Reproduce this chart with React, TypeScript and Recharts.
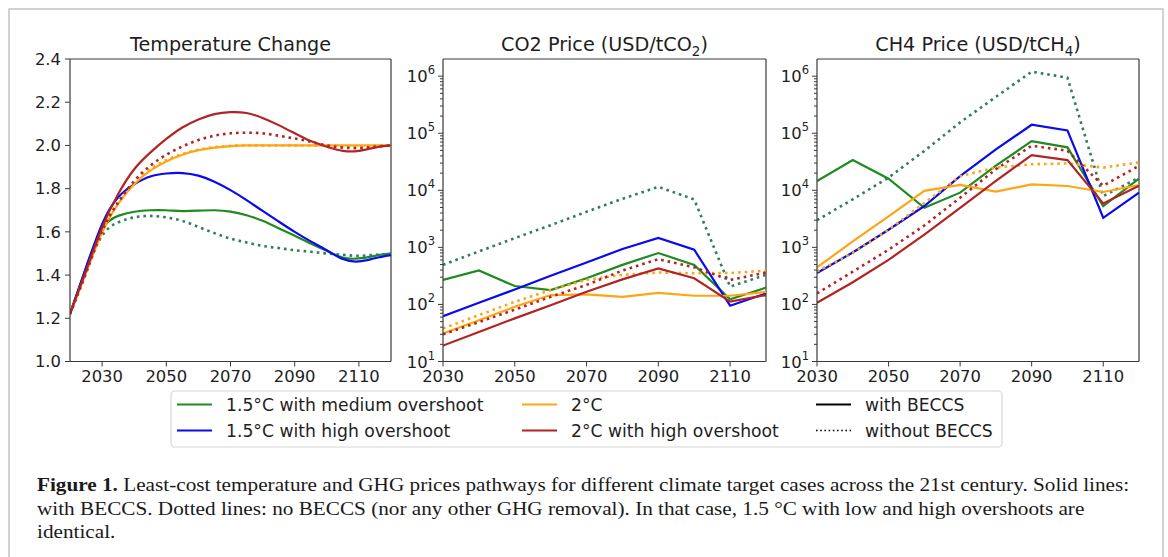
import React from 'react';
import { LineChart, Line, XAxis, YAxis, ReferenceLine } from 'recharts';

// ---------- Temperature change (°C) ----------
const tempYears = [2020, 2025, 2030, 2035, 2040, 2045, 2050, 2055, 2060, 2065, 2070, 2075, 2080, 2085, 2090, 2095, 2100, 2105, 2110, 2115, 2120];
const temp15Medium = [1.22, 1.435, 1.613, 1.674, 1.693, 1.7, 1.7, 1.696, 1.698, 1.7, 1.694, 1.677, 1.651, 1.617, 1.582, 1.546, 1.512, 1.481, 1.477, 1.489, 1.5];
const temp15MediumNoBeccs = [1.22, 1.42, 1.582, 1.644, 1.667, 1.674, 1.667, 1.651, 1.623, 1.594, 1.569, 1.551, 1.535, 1.525, 1.515, 1.508, 1.5, 1.494, 1.489, 1.494, 1.497];
const temp15High = [1.22, 1.435, 1.636, 1.76, 1.82, 1.856, 1.87, 1.872, 1.86, 1.832, 1.793, 1.747, 1.697, 1.648, 1.6, 1.556, 1.515, 1.474, 1.463, 1.478, 1.492];
const temp2 = [1.22, 1.41, 1.597, 1.73, 1.82, 1.883, 1.926, 1.957, 1.978, 1.99, 1.997, 2.0, 2.0, 2.0, 2.0, 2.0, 2.0, 2.0, 2.0, 2.0, 2.0];
const temp2NoBeccs = [1.22, 1.41, 1.6, 1.735, 1.828, 1.89, 1.932, 1.96, 1.98, 1.992, 1.998, 2.0, 2.0, 2.0, 2.0, 2.0, 2.0, 1.997, 1.995, 1.998, 2.0];
const temp2High = [1.22, 1.42, 1.62, 1.775, 1.89, 1.967, 2.03, 2.083, 2.12, 2.145, 2.154, 2.15, 2.127, 2.094, 2.056, 2.02, 1.994, 1.975, 1.975, 1.99, 2.0];
const temp2HighNoBeccs = [1.22, 1.41, 1.605, 1.736, 1.836, 1.906, 1.957, 1.995, 2.025, 2.045, 2.056, 2.059, 2.056, 2.045, 2.032, 2.017, 2.0, 1.99, 1.988, 1.994, 2.0];

// ---------- CO2 price (USD/tCO2) ----------
const priceYears = [2030, 2040, 2050, 2060, 2070, 2080, 2090, 2100, 2110, 2120];
const co2_15Medium = [270, 393, 210, 178, 288, 494, 795, 494, 123, 197];
const co2_15MediumNoBeccs = [494, 850, 1450, 2450, 4200, 7100, 11500, 6900, 205, 330];
const co2_15High = [62, 107, 183, 317, 543, 935, 1460, 910, 95, 156];
const co2_2 = [31, 53, 91, 146, 150, 136, 160, 142, 142, 166];
const co2_2NoBeccs = [38, 65, 111, 179, 270, 330, 363, 353, 355, 390];
const co2_2High = [19, 33, 57, 97, 167, 275, 427, 287, 112, 146];
const co2_2HighNoBeccs = [30, 49, 81, 136, 220, 393, 620, 447, 268, 363];

// ---------- CH4 price (USD/tCH4) ----------
const ch4_15Medium = [14600, 33900, 16000, 4940, 9100, 27000, 72600, 56700, 5300, 16000];
const ch4_15MediumNoBeccs = [2990, 6950, 16700, 49000, 155000, 433000, 1200000, 940000, 7900, 16700];
const ch4_15High = [355, 815, 2040, 5300, 17700, 52000, 141000, 112000, 3300, 9100];
const ch4_2 = [446, 1270, 3500, 9800, 12400, 9500, 12700, 11900, 9350, 12400];
const ch4_2NoBeccs = [380, 795, 2040, 6000, 17700, 25000, 28600, 29500, 25000, 30800];
const ch4_2High = [107, 245, 605, 1670, 4940, 14600, 41400, 33900, 5900, 12000];
const ch4_2HighNoBeccs = [156, 375, 910, 2420, 7400, 23400, 60400, 49400, 12000, 27000];

// ---------- ticks & labels ----------
const tempTicksY = [1.0, 1.2, 1.4, 1.6, 1.8, 2.0, 2.2, 2.4];
const yearTicks = [2030, 2050, 2070, 2090, 2110];
const logExponents = [1, 2, 3, 4, 5, 6];
const titles = ['Temperature Change', 'CO2 Price (USD/tCO', 'CH4 Price (USD/tCH'];
const titleSubs = ['', '2', '4'];
const legendLabels = ['1.5°C with medium overshoot', '1.5°C with high overshoot', '2°C', '2°C with high overshoot', 'with BECCS', 'without BECCS'];
const captionLine1 = ' Least-cost temperature and GHG prices pathways for different climate target cases across the 21st century. Solid lines:';
const captionLine2 = 'with BECCS. Dotted lines: no BECCS (nor any other GHG removal). In that case, 1.5 °C with low and high overshoots are';
const captionLine3 = 'identical.';

// ---------- styles ----------
const GREEN = '#1f8a1f';
const GREEN_DOT = '#2e7d5b';
const BLUE = '#0a0af0';
const ORANGE = '#ffa514';
const RED = '#b22424';
const SPINE = '#3a3a3a';
const TEXT = '#1e1e1e';
const FONT = '"DejaVu Sans", sans-serif';
const DOT = '2.6 4';
const LW = 2.2;
const LWD = 2.6;

const series = [
  { key: 'g', color: GREEN, dash: undefined },
  { key: 'gd', color: GREEN_DOT, dash: DOT },
  { key: 'b', color: BLUE, dash: undefined },
  { key: 'o', color: ORANGE, dash: undefined },
  { key: 'od', color: ORANGE, dash: DOT },
  { key: 'r', color: RED, dash: undefined },
  { key: 'rd', color: RED, dash: DOT },
];

const tempData = tempYears.map((year, i) => ({
  year,
  g: temp15Medium[i], gd: temp15MediumNoBeccs[i], b: temp15High[i],
  o: temp2[i], od: temp2NoBeccs[i], r: temp2High[i], rd: temp2HighNoBeccs[i],
}));
const co2Data = priceYears.map((year, i) => ({
  year,
  g: co2_15Medium[i], gd: co2_15MediumNoBeccs[i], b: co2_15High[i],
  o: co2_2[i], od: co2_2NoBeccs[i], r: co2_2High[i], rd: co2_2HighNoBeccs[i],
}));
const ch4Data = priceYears.map((year, i) => ({
  year,
  g: ch4_15Medium[i], gd: ch4_15MediumNoBeccs[i], b: ch4_15High[i],
  o: ch4_2[i], od: ch4_2NoBeccs[i], r: ch4_2High[i], rd: ch4_2HighNoBeccs[i],
}));

const logTicks: number[] = [];
logExponents.forEach((e) => {
  for (let m = 1; m <= 9; m++) {
    if (e === 6 && m > 1) break;
    logTicks.push(m * Math.pow(10, e));
  }
});

const LogTick = (props: any) => {
  const { x, y, payload } = props;
  const v = payload.value;
  const lg = Math.log10(v);
  const e = Math.round(lg);
  const major = Math.abs(lg - e) < 1e-6;
  return (
    <g>
      <line x1={x - (major ? 5 : 3)} x2={x} y1={y} y2={y} stroke={SPINE} strokeWidth={1} />
      {major && (
        <text x={x - 8} y={y + 6} textAnchor="end" fill={TEXT} fontSize={16.4} fontFamily={FONT}>
          10<tspan dy={-8} fontSize={11.5}>{e}</tspan>
        </text>
      )}
    </g>
  );
};

const tickStyle = { fill: TEXT, fontSize: 16.4, fontFamily: FONT };

const YW = 60;
const MT = 10;
const MR = 10;
const XH = 32;
const PLOT_TOP = 58.5;
const PLOT_H = 302.5;

function Panel({ left, plotW, data, log, curve }: any) {
  const width = YW + plotW + MR;
  const height = MT + PLOT_H + XH;
  const xDomain = log ? [2030, 2120] : [2020, 2120];
  const yDomain = log ? [10, 2000000] : [1.0, 2.4];
  return (
    <div style={{ position: 'absolute', left: left - YW, top: PLOT_TOP - MT, width, height }}>
      <LineChart width={width} height={height} data={data} margin={{ top: MT, right: MR, left: 0, bottom: 0 }}>
        <XAxis
          dataKey="year"
          type="number"
          domain={xDomain}
          ticks={yearTicks}
          interval={0}
          allowDataOverflow
          height={XH}
          tick={tickStyle}
          tickSize={5}
          tickMargin={4}
          axisLine={{ stroke: SPINE, strokeWidth: 1.2 }}
          tickLine={{ stroke: SPINE }}
        />
        {log ? (
          <YAxis
            type="number"
            scale="log"
            domain={yDomain}
            ticks={logTicks}
            interval={0}
            allowDataOverflow
            width={YW}
            tick={<LogTick />}
            tickSize={0}
            tickMargin={0}
            tickLine={false}
            axisLine={{ stroke: SPINE, strokeWidth: 1.2 }}
          />
        ) : (
          <YAxis
            type="number"
            domain={yDomain}
            ticks={tempTicksY}
            interval={0}
            allowDataOverflow
            width={YW}
            tick={tickStyle}
            tickFormatter={(v: number) => v.toFixed(1)}
            tickSize={5}
            tickMargin={4}
            axisLine={{ stroke: SPINE, strokeWidth: 1.2 }}
            tickLine={{ stroke: SPINE }}
          />
        )}
        <ReferenceLine y={yDomain[1]} stroke={SPINE} strokeWidth={1.2} />
        <ReferenceLine x={xDomain[1]} stroke={SPINE} strokeWidth={1.2} />
        {series.map((s) => (
          <Line
            key={s.key}
            dataKey={s.key}
            type={curve}
            stroke={s.color}
            strokeWidth={s.dash ? LWD : LW}
            strokeDasharray={s.dash}
            dot={false}
            activeDot={false}
            isAnimationActive={false}
          />
        ))}
      </LineChart>
    </div>
  );
}

const panels = [
  { left: 70, plotW: 321, data: tempData, log: false, curve: 'natural' },
  { left: 443, plotW: 323, data: co2Data, log: true, curve: 'linear' },
  { left: 817, plotW: 322, data: ch4Data, log: true, curve: 'linear' },
];

const legendItems = [
  { label: legendLabels[0], color: GREEN, dash: undefined, col: 0, row: 0 },
  { label: legendLabels[1], color: BLUE, dash: undefined, col: 0, row: 1 },
  { label: legendLabels[2], color: ORANGE, dash: undefined, col: 1, row: 0 },
  { label: legendLabels[3], color: RED, dash: undefined, col: 1, row: 1 },
  { label: legendLabels[4], color: '#000', dash: undefined, col: 2, row: 0 },
  { label: legendLabels[5], color: '#000', dash: '1.6 2.6', col: 2, row: 1 },
];
const legendCols = [177, 522, 816];
const legendRows = [404.5, 430.5];

export default function App() {
  return (
    <div style={{ position: 'absolute', left: 0, top: 0, width: 1168, height: 557, background: '#fff', overflow: 'hidden' }}>
      <svg width={1168} height={557} style={{ position: 'absolute', left: 0, top: 0 }}>
        <rect x={9} y={9} width={1154} height={570} fill="none" stroke="#c4c4c4" strokeWidth={1.5} />
        {panels.map((p, i) => (
          <text key={i} x={p.left + p.plotW / 2} y={51} textAnchor="middle" fill={TEXT} fontSize={19.2} fontFamily={FONT}>
            {titles[i]}
            {titleSubs[i] && <tspan dy={5} fontSize={13.5}>{titleSubs[i]}</tspan>}
            {titleSubs[i] && <tspan dy={-5}>)</tspan>}
          </text>
        ))}
        <rect x={171} y={391} width={831} height={56} rx={4} fill="#fff" stroke="#d6d6d6" strokeWidth={1.2} />
        {legendItems.map((it, i) => (
          <g key={i}>
            <line x1={legendCols[it.col]} x2={legendCols[it.col] + 35} y1={legendRows[it.row]} y2={legendRows[it.row]} stroke={it.color} strokeWidth={it.dash ? 1.6 : 2.2} strokeDasharray={it.dash} />
            <text x={legendCols[it.col] + 49} y={legendRows[it.row] + 6} fill={TEXT} fontSize={17.2} fontFamily={FONT}>{it.label}</text>
          </g>
        ))}
      </svg>
      {panels.map((p, i) => (
        <Panel key={i} {...p} />
      ))}
      <div style={{ position: 'absolute', left: 37, top: 473, fontFamily: '"Liberation Serif", serif', fontSize: 19.5, lineHeight: '23.5px', color: '#1a1a1a', whiteSpace: 'nowrap', transform: 'scaleX(1.088)', transformOrigin: '0 0' }}>
        <div><b>Figure 1.</b>{captionLine1}</div>
        <div>{captionLine2}</div>
        <div>{captionLine3}</div>
      </div>
    </div>
  );
}
